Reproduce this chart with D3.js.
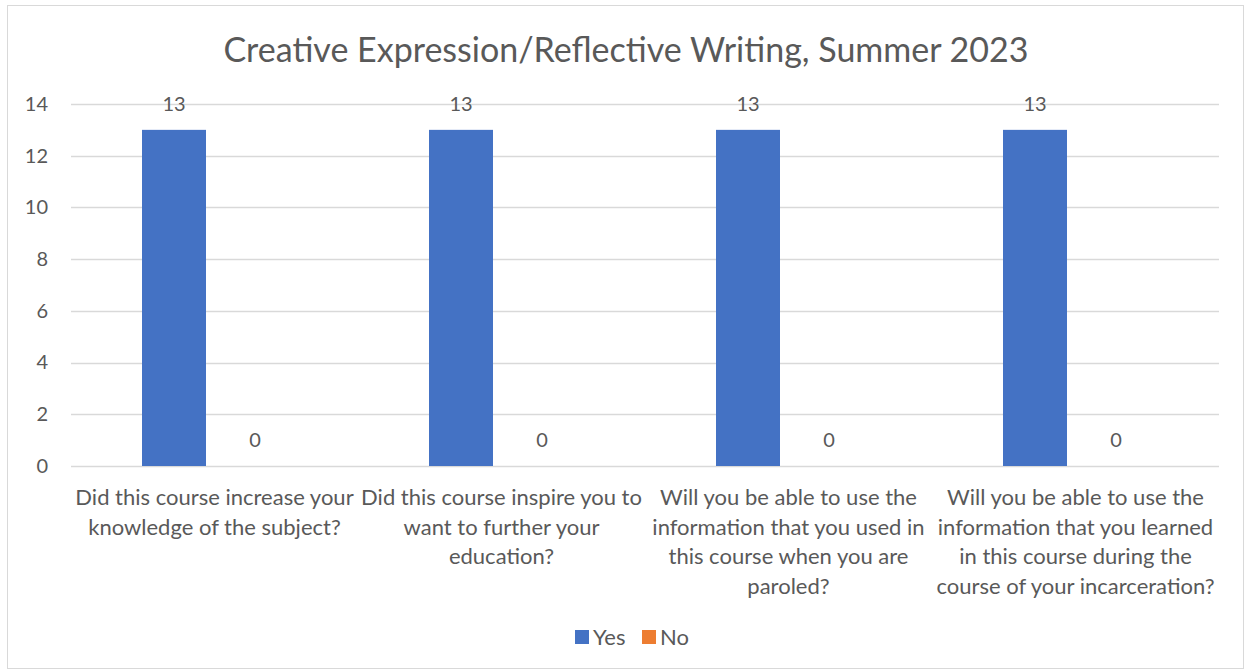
<!DOCTYPE html>
<html><head><meta charset="utf-8">
<script src="https://cdn.jsdelivr.net/npm/d3@7"></script>
<style>
html,body{margin:0;padding:0;background:#fff;}
svg{display:block;}
text{font-family:Lato,"Noto Sans",sans-serif;fill:#595959;}
</style></head>
<body>
<svg id="chart" width="1244" height="672"></svg>
<script>
const title = "Creative Expression/Reflective Writing, Summer 2023";
const categories = [
  ["Did this course increase your", "knowledge of the subject?"],
  ["Did this course inspire you to", "want to further your", "education?"],
  ["Will you be able to use the", "information that you used in", "this course when you are", "paroled?"],
  ["Will you be able to use the", "information that you learned", "in this course during the", "course of your incarceration?"]
];
const seriesNames = ["Yes", "No"];
const yesValues = [13, 13, 13, 13];
const noValues = [0, 0, 0, 0];
const yTicks = [0, 2, 4, 6, 8, 10, 12, 14];
const colors = ["#4472C4", "#ED7D31"];

(function () {
const svg = d3.select("#chart");
svg.append("rect").attr("x", 7.5).attr("y", 5.5).attr("width", 1236).attr("height", 663)
  .attr("fill", "#fff").attr("stroke", "#d9d9d9").attr("stroke-width", 1);

const pLeft = 71, pRight = 1219, pTop = 104, pBottom = 466;
const y = d3.scaleLinear().domain([0, 14]).range([pBottom, pTop]);
const x0 = d3.scaleBand().domain(d3.range(categories.length)).range([pLeft, pRight]).paddingInner(0).paddingOuter(0);
const bw = 64, gap = 17;

// gridlines
svg.append("g").selectAll("line").data(yTicks).join("line")
  .attr("x1", pLeft).attr("x2", pRight)
  .attr("y1", d => Math.round(y(d)) + 0.5).attr("y2", d => Math.round(y(d)) + 0.5)
  .attr("stroke", "#d9d9d9").attr("stroke-width", 1.3);

// y axis labels
const yAxis = d3.axisLeft(y).tickValues(yTicks).tickSize(0).tickPadding(23);
const gy = svg.append("g").attr("transform", `translate(${pLeft},0)`).call(yAxis);
gy.select(".domain").remove();
gy.selectAll("text").attr("font-size", 20).attr("fill", "#595959").style("font-family", "Lato,'Noto Sans',sans-serif");

// title
svg.append("text").attr("x", 626).attr("y", 62).attr("text-anchor", "middle")
  .attr("font-size", 34).attr("font-weight", 400).text(title);

const series = [yesValues, noValues];
series.forEach((vals, si) => {
  const offset = si === 0 ? -(gap / 2 + bw / 2) : (gap / 2 + bw / 2);
  const g = svg.append("g");
  g.selectAll("rect").data(vals).join("rect")
    .attr("x", (d, i) => x0(i) + x0.bandwidth() / 2 + offset - bw / 2)
    .attr("width", bw)
    .attr("y", d => y(d))
    .attr("height", d => y(0) - y(d))
    .attr("fill", colors[si]);
  g.selectAll("text").data(vals).join("text")
    .attr("x", (d, i) => x0(i) + x0.bandwidth() / 2 + offset)
    .attr("y", d => y(d) - 19)
    .attr("text-anchor", "middle")
    .attr("font-size", 20).attr("fill", "#404040")
    .text(d => d);
});

// category labels
const cg = svg.append("g");
categories.forEach((lines, i) => {
  const t = cg.append("text").attr("text-anchor", "middle").attr("font-size", 22);
  lines.forEach((ln, j) => {
    t.append("tspan").attr("x", x0(i) + x0.bandwidth() / 2).attr("y", 505 + j * 29.5).text(ln);
  });
});

// legend
const legend = svg.append("g");
const lx = [575, 642];
seriesNames.forEach((n, i) => {
  legend.append("rect").attr("x", lx[i]).attr("y", 630).attr("width", 14).attr("height", 14).attr("fill", colors[i]);
  legend.append("text").attr("x", lx[i] + 18).attr("y", 645).attr("font-size", 22).text(n);
});
})();
</script>
</body></html>
